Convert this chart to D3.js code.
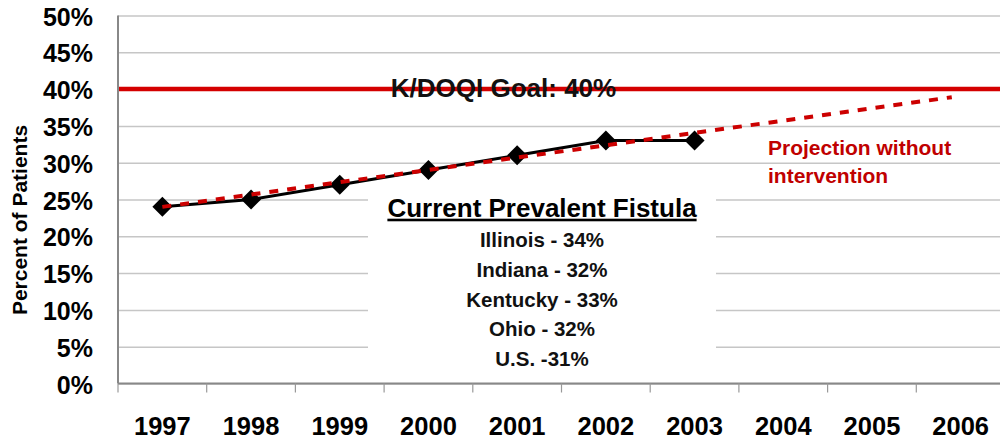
<!DOCTYPE html>
<html>
<head>
<meta charset="utf-8">
<script src="https://cdn.jsdelivr.net/npm/d3@7"></script>
<style>
  body { margin: 0; background: #fff; }
  svg text { font-family: "Liberation Sans", Arial, sans-serif; font-weight: bold; }
</style>
</head>
<body>
<script>
var w = 1000;
var h = 442;

// categories on the x axis
var years = ["1997", "1998", "1999", "2000", "2001", "2002", "2003", "2004", "2005", "2006"];

// observed prevalent fistula (%)
var fistulaYears = ["1997", "1998", "1999", "2000", "2001", "2002", "2003"];
var fistulaValues = [24, 25, 27, 29, 31, 33, 33];

// projection without intervention (start / end of the trend)
var projectionYears = [1997, 2005.9];
var projectionValues = [24, 38.9];

var goalValue = 40;
var goalLabel = "K/DOQI Goal: 40%";

var yTicks = [0, 5, 10, 15, 20, 25, 30, 35, 40, 45, 50];

var boxTitle = "Current Prevalent Fistula";
var stateLabels = ["Illinois - 34%", "Indiana - 32%", "Kentucky - 33%", "Ohio - 32%", "U.S. -31%"];
var projectionLabel = ["Projection without", "intervention"];

// plot edges (the chart runs past the right side of the window)
var plotLeft = 118, plotTop = 15.5, plotBottom = 383.5, plotRight = 1005;

var x = d3.scaleBand().domain(years).range([plotLeft, plotRight]);
function xc(d) { return x(d) + x.bandwidth() / 2; }

// numeric year scale for the projection trend
var xYear = d3.scaleLinear()
    .domain([1997, 2006])
    .range([xc("1997"), xc("2006")]);

var y = d3.scaleLinear().domain([0, 50]).range([plotBottom, plotTop]);

var svg = d3.select("body").append("svg").attr("width", w).attr("height", h);

// gridlines + y labels
var yAxis = svg.append("g")
    .attr("transform", "translate(" + plotLeft + ",0)")
    .call(d3.axisLeft(y)
      .tickValues(yTicks)
      .tickSize(-(w - plotLeft))
      .tickPadding(25)
      .tickFormat(function(d) { return d + "%"; }));
yAxis.select(".domain").remove();
yAxis.selectAll("line").attr("stroke", "#c6c6c6").attr("stroke-width", 1.5);
yAxis.selectAll("text")
    .attr("fill", "#000")
    .attr("dy", "0.38em")
    .style("font-size", "25px");

// white box behind the state list
svg.append("rect")
    .attr("x", 368)
    .attr("y", 188)
    .attr("width", 348)
    .attr("height", 193)
    .attr("fill", "#fff");

// goal line
svg.append("line")
    .attr("x1", plotLeft).attr("x2", w)
    .attr("y1", y(goalValue)).attr("y2", y(goalValue))
    .attr("stroke", "#d40000")
    .attr("stroke-width", 4.5);

svg.append("text")
    .attr("x", 503.5)
    .attr("y", 97)
    .attr("text-anchor", "middle")
    .style("font-size", "26px")
    .attr("fill", "#111")
    .text(goalLabel);

// observed line
var line = d3.line()
    .x(function(d, i) { return xc(fistulaYears[i]); })
    .y(function(d) { return y(d); });

svg.append("path")
    .datum(fistulaValues)
    .attr("d", line)
    .attr("fill", "none")
    .attr("stroke", "#000")
    .attr("stroke-width", 3);

svg.selectAll(".marker")
    .data(fistulaValues)
    .enter().append("path")
    .attr("class", "marker")
    .attr("d", d3.symbol(d3.symbolSquare, 200))
    .attr("transform", function(d, i) {
      return "translate(" + xc(fistulaYears[i]) + "," + y(d) + ") rotate(45)";
    })
    .attr("fill", "#000");

// projection (dashed)
var projLine = d3.line()
    .x(function(d, i) { return xYear(projectionYears[i]); })
    .y(function(d) { return y(d); });

svg.append("path")
    .datum(projectionValues)
    .attr("d", projLine)
    .attr("fill", "none")
    .attr("stroke", "#cc0000")
    .attr("stroke-width", 4)
    .attr("stroke-dasharray", "9,9");

// x axis
var xAxis = svg.append("g")
    .attr("transform", "translate(0," + plotBottom + ")")
    .call(d3.axisBottom(x).tickSize(0));
xAxis.select(".domain").remove();
xAxis.selectAll("text")
    .attr("y", 51)
    .attr("dy", 0)
    .attr("fill", "#000")
    .style("font-size", "25.5px");

svg.append("line")
    .attr("x1", plotLeft).attr("x2", w)
    .attr("y1", plotBottom).attr("y2", plotBottom)
    .attr("stroke", "#888").attr("stroke-width", 2);

svg.selectAll(".xtick")
    .data(years)
    .enter().append("line")
    .attr("class", "xtick")
    .attr("x1", function(d) { return x(d); })
    .attr("x2", function(d) { return x(d); })
    .attr("y1", plotBottom)
    .attr("y2", plotBottom + 9)
    .attr("stroke", "#999")
    .attr("stroke-width", 1.2);

svg.append("line")
    .attr("x1", plotLeft).attr("x2", plotLeft)
    .attr("y1", plotTop).attr("y2", plotBottom)
    .attr("stroke", "#888").attr("stroke-width", 2);

// y axis title
svg.append("text")
    .attr("transform", "translate(26.5,220) rotate(-90)")
    .attr("text-anchor", "middle")
    .style("font-size", "21px")
    .attr("fill", "#000")
    .text("Percent of Patients");

// state list
svg.append("text")
    .attr("x", 542)
    .attr("y", 216.7)
    .attr("text-anchor", "middle")
    .style("font-size", "26px")
    .style("text-decoration", "underline")
    .attr("fill", "#000")
    .text(boxTitle);

svg.selectAll(".state")
    .data(stateLabels)
    .enter().append("text")
    .attr("class", "state")
    .attr("x", 542)
    .attr("y", function(d, i) { return 247.3 + i * 29.7; })
    .attr("text-anchor", "middle")
    .style("font-size", "20.5px")
    .attr("fill", "#111")
    .text(function(d) { return d; });

// projection label
svg.selectAll(".proj")
    .data(projectionLabel)
    .enter().append("text")
    .attr("class", "proj")
    .attr("x", 768)
    .attr("y", function(d, i) { return 155 + i * 28.3; })
    .style("font-size", "21px")
    .attr("fill", "#c00000")
    .text(function(d) { return d; });
</script>
</body>
</html>
